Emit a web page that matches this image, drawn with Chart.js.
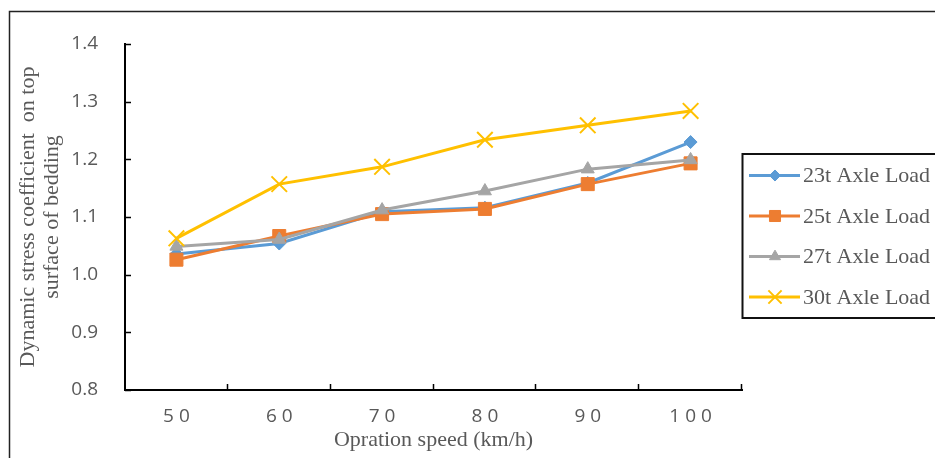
<!DOCTYPE html>
<html>
<head>
<meta charset="utf-8">
<script src="https://cdn.jsdelivr.net/npm/chart.js@4"></script>
<style>
  html, body { margin: 0; padding: 0; background: #fff; }
  #wrap { width: 935px; height: 458px; position: relative; }
</style>
</head>
<body>
<div id="wrap"><canvas id="chart" width="935" height="458"></canvas></div>
<script>
// Operation speeds (km/h) and their tick labels
const speeds = [50, 60, 70, 80, 90, 100];
const speedLabels = ['5 0', '6 0', '7 0', '8 0', '9 0', '1 0 0'];

// Dynamic stress coefficient on top surface of bedding, per axle load
const load23t = [1.036, 1.054, 1.109, 1.116, 1.159, 1.230];
const load25t = [1.026, 1.067, 1.105, 1.114, 1.157, 1.193];
const load27t = [1.049, 1.061, 1.112, 1.145, 1.183, 1.199];
const load30t = [1.063, 1.157, 1.187, 1.234, 1.259, 1.284];

const seriesNames = ['23t Axle Load', '25t Axle Load', '27t Axle Load', '30t Axle Load'];

const yTicks = [0.8, 0.9, 1.0, 1.1, 1.2, 1.3, 1.4];

const TEXT = '#595959';
const SERIF = '"Liberation Serif", "Times New Roman", serif';
const SANS = '"Open Sans", "Noto Sans", sans-serif';

function series(label, data, color, style, radius, order, extra) {
  return Object.assign({
    label, data,
    borderColor: color,
    backgroundColor: color,
    borderWidth: 3,
    pointStyle: style,
    pointRadius: radius,
    pointHoverRadius: radius,
    pointBackgroundColor: color,
    pointBorderColor: color,
    pointBorderWidth: 1,
    tension: 0,
    order
  }, extra || {});
}

const datasets = [
  series(seriesNames[0], load23t, '#5B9BD5', 'rectRot', 6.5, 4),
  series(seriesNames[1], load25t, '#ED7D31', 'rect', 9.2, 3),
  series(seriesNames[2], load27t, '#A5A5A5', 'triangle', 7.5, 2),
  series(seriesNames[3], load30t, '#FFC000', 'crossRot', 11, 1, { pointBorderWidth: 2 })
];

// Frame around the whole figure
const framePlugin = {
  id: 'frame',
  beforeDraw(chart) {
    const ctx = chart.ctx;
    ctx.save();
    ctx.fillStyle = '#fff';
    ctx.fillRect(0, 0, chart.width, chart.height);
    ctx.strokeStyle = '#222';
    ctx.lineWidth = 1.5;
    ctx.strokeRect(9.5, 11.5, 1000, 1000);
    ctx.restore();
  }
};

// Short tick marks pointing into the plot area
const innerTicksPlugin = {
  id: 'innerTicks',
  afterDraw(chart) {
    const ctx = chart.ctx;
    const area = chart.chartArea;
    const y = chart.scales.y;
    ctx.save();
    ctx.strokeStyle = '#000';
    ctx.lineWidth = 1.5;
    ctx.beginPath();
    yTicks.forEach(v => {
      const py = Math.round(y.getPixelForValue(v)) + 0.5;
      ctx.moveTo(area.left, py);
      ctx.lineTo(area.left + 6, py);
    });
    const n = speeds.length;
    for (let i = 1; i <= n; i++) {
      const px = Math.round(area.left + (area.right - area.left) * i / n) - 0.5;
      ctx.moveTo(px, area.bottom);
      ctx.lineTo(px, area.bottom - 6);
    }
    ctx.stroke();
    ctx.restore();
  }
};

// Boxed legend with line + marker samples
const boxLegendPlugin = {
  id: 'boxLegend',
  afterDraw(chart) {
    const ctx = chart.ctx;
    const box = { x: 742.5, y: 154, w: 300, h: 164 };
    ctx.save();
    ctx.strokeStyle = '#111';
    ctx.lineWidth = 2;
    ctx.strokeRect(box.x, box.y, box.w, box.h);
    chart.data.datasets.forEach((ds, i) => {
      const cy = 175.5 + i * 40.5;
      ctx.strokeStyle = ds.borderColor;
      ctx.lineWidth = 3;
      ctx.beginPath();
      ctx.moveTo(749, cy);
      ctx.lineTo(800, cy);
      ctx.stroke();
      ctx.fillStyle = ds.pointBackgroundColor;
      ctx.strokeStyle = ds.pointBorderColor;
      ctx.lineWidth = ds.pointBorderWidth;
      Chart.helpers.drawPoint(ctx, {
        pointStyle: ds.pointStyle,
        radius: ds.pointRadius * 0.85,
        rotation: 0,
        borderWidth: ds.pointBorderWidth
      }, 775, cy);
      ctx.fillStyle = TEXT;
      ctx.font = '22px ' + SERIF;
      ctx.textAlign = 'left';
      ctx.textBaseline = 'middle';
      ctx.fillText(ds.label, 803, cy + 1);
    });
    ctx.restore();
  }
};

new Chart(document.getElementById('chart'), {
  type: 'line',
  data: { labels: speeds, datasets },
  plugins: [framePlugin, innerTicksPlugin, boxLegendPlugin],
  options: {
    responsive: false,
    animation: false,
    layout: { padding: { left: 0, top: 44, right: 193, bottom: 0 } },
    plugins: {
      legend: { display: false },
      tooltip: { enabled: false }
    },
    scales: {
      x: {
        type: 'category',
        offset: true,
        grid: { display: false, drawTicks: false },
        border: { display: true, color: '#000', width: 2 },
        ticks: {
          color: TEXT,
          font: { family: SANS, size: 19 },
          padding: 15,
          maxRotation: 0,
          autoSkip: false,
          callback: (v, i) => speedLabels[i]
        },
        title: {
          display: true,
          text: 'Opration speed (km/h)',
          color: TEXT,
          font: { family: SERIF, size: 22, lineHeight: 1.1 },
          padding: { top: 0, bottom: 6 }
        },
        afterFit(scale) { scale.height = 68; }
      },
      y: {
        min: 0.8,
        max: 1.4,
        grid: { display: false, drawTicks: false },
        border: { display: true, color: '#000', width: 2 },
        afterBuildTicks(scale) { scale.ticks = yTicks.map(v => ({ value: v })); },
        ticks: {
          color: TEXT,
          font: { family: SANS, size: 19 },
          padding: 27,
          callback: v => Number(v).toFixed(1)
        },
        title: {
          display: true,
          text: ['Dynamic stress coefficient  on top', 'surface of bedding'],
          color: TEXT,
          font: { family: SERIF, size: 22, lineHeight: 1.1 },
          padding: { top: 16, bottom: 0 }
        },
        afterFit(scale) { scale.width = 125; }
      }
    }
  }
});
</script>
</body>
</html>
